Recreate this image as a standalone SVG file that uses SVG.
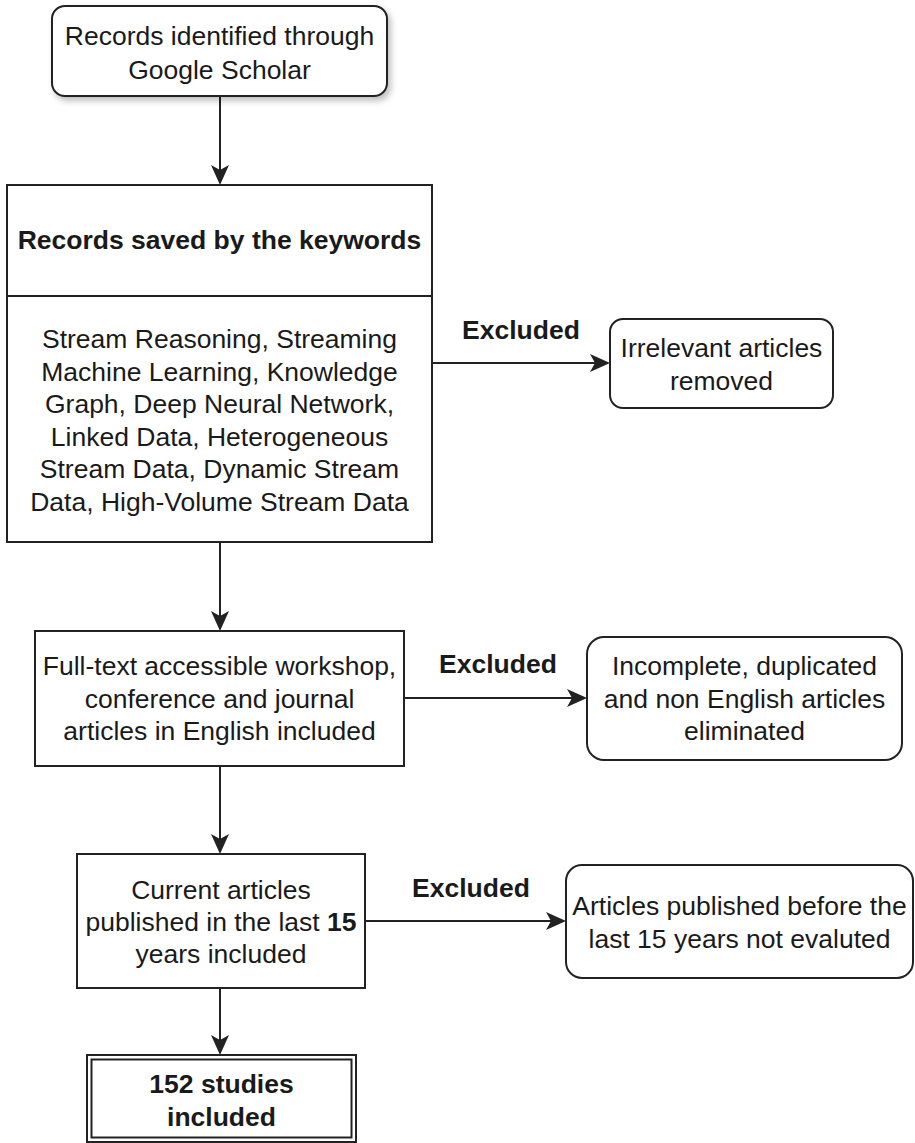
<svg xmlns="http://www.w3.org/2000/svg" width="915" height="1143" viewBox="0 0 915 1143">
<style>
  .box { fill: #ffffff; stroke: #222222; stroke-width: 2; }
  .edge { fill: none; stroke: #222222; stroke-width: 2; }
  .t { font-family: "Liberation Sans", Arial, Helvetica, sans-serif; font-size: 26.5px; fill: #1a1a1a; text-anchor: middle; }
  .b { font-weight: bold; }
</style>
<defs>
  <marker id="arrow" markerUnits="userSpaceOnUse" viewBox="0 0 20 20" refX="10" refY="10" markerWidth="20" markerHeight="20" orient="auto">
    <path d="M0,1 L20,10 L0,19 L5,10 Z" fill="#222222"/>
  </marker>
  <filter id="shadow" x="-10%" y="-20%" width="130%" height="150%">
    <feDropShadow dx="3" dy="4" stdDeviation="3" flood-color="#000000" flood-opacity="0.25"/>
  </filter>
</defs>
<rect width="915" height="1143" fill="#ffffff"/>

<g id="connectors">
  <line class="edge" x1="220" y1="96" x2="220" y2="175" marker-end="url(#arrow)"/>
  <line class="edge" x1="220" y1="542" x2="220" y2="621" marker-end="url(#arrow)"/>
  <line class="edge" x1="220" y1="766" x2="220" y2="844" marker-end="url(#arrow)"/>
  <line class="edge" x1="220" y1="988" x2="220" y2="1045" marker-end="url(#arrow)"/>
  <line class="edge" x1="432" y1="363" x2="600" y2="363" marker-end="url(#arrow)"/>
  <line class="edge" x1="404" y1="698" x2="577" y2="698" marker-end="url(#arrow)"/>
  <line class="edge" x1="365" y1="921" x2="556" y2="921" marker-end="url(#arrow)"/>
  <text class="t b" x="521" y="339">Excluded</text>
  <text class="t b" x="498" y="673">Excluded</text>
  <text class="t b" x="471" y="897">Excluded</text>
</g>

<g id="node-google">
  <rect class="box" x="52" y="6" width="335" height="90" rx="13" ry="13" filter="url(#shadow)"/>
  <text class="t" x="219.5" y="45">Records identified through</text>
  <text class="t" x="219.5" y="79">Google Scholar</text>
</g>

<g id="node-keywords">
  <rect class="box" x="7" y="185" width="425" height="357"/>
  <line class="edge" x1="7" y1="296" x2="432" y2="296"/>
  <text class="t b" x="219.5" y="249">Records saved by the keywords</text>
  <text class="t" x="219.5" y="348">Stream Reasoning, Streaming</text>
  <text class="t" x="219.5" y="380.5">Machine Learning, Knowledge</text>
  <text class="t" x="219.5" y="413">Graph, Deep Neural Network,</text>
  <text class="t" x="219.5" y="445.5">Linked Data, Heterogeneous</text>
  <text class="t" x="219.5" y="478">Stream Data, Dynamic Stream</text>
  <text class="t" x="219.5" y="510.5">Data, High-Volume Stream Data</text>
</g>

<g id="node-irrelevant">
  <rect class="box" x="610" y="319" width="223" height="89" rx="13" ry="13"/>
  <text class="t" x="721.5" y="357">Irrelevant articles</text>
  <text class="t" x="721.5" y="390">removed</text>
</g>

<g id="node-fulltext">
  <rect class="box" x="35" y="631" width="369" height="135"/>
  <text class="t" x="219.5" y="675">Full-text accessible workshop,</text>
  <text class="t" x="219.5" y="707.5">conference and journal</text>
  <text class="t" x="219.5" y="740">articles in English included</text>
</g>

<g id="node-incomplete">
  <rect class="box" x="587" y="637" width="315" height="123" rx="17" ry="17"/>
  <text class="t" x="744.5" y="675">Incomplete, duplicated</text>
  <text class="t" x="744.5" y="707.5">and non English articles</text>
  <text class="t" x="744.5" y="740">eliminated</text>
</g>

<g id="node-current">
  <rect class="box" x="77" y="854" width="288" height="134"/>
  <text class="t" x="221" y="899">Current articles</text>
  <text class="t" x="221" y="931">published in the last <tspan class="b">15</tspan></text>
  <text class="t" x="221" y="963">years included</text>
</g>

<g id="node-before">
  <rect class="box" x="566" y="865" width="347" height="113" rx="16" ry="16"/>
  <text class="t" x="739.5" y="915">Articles published before the</text>
  <text class="t" x="739.5" y="948">last 15 years not evaluted</text>
</g>

<g id="node-final">
  <rect class="box" x="87" y="1055" width="269" height="87"/>
  <rect class="box" x="91.5" y="1059.5" width="260" height="78"/>
  <text class="t b" x="221.5" y="1093">152 studies</text>
  <text class="t b" x="221.5" y="1126">included</text>
</g>
</svg>
